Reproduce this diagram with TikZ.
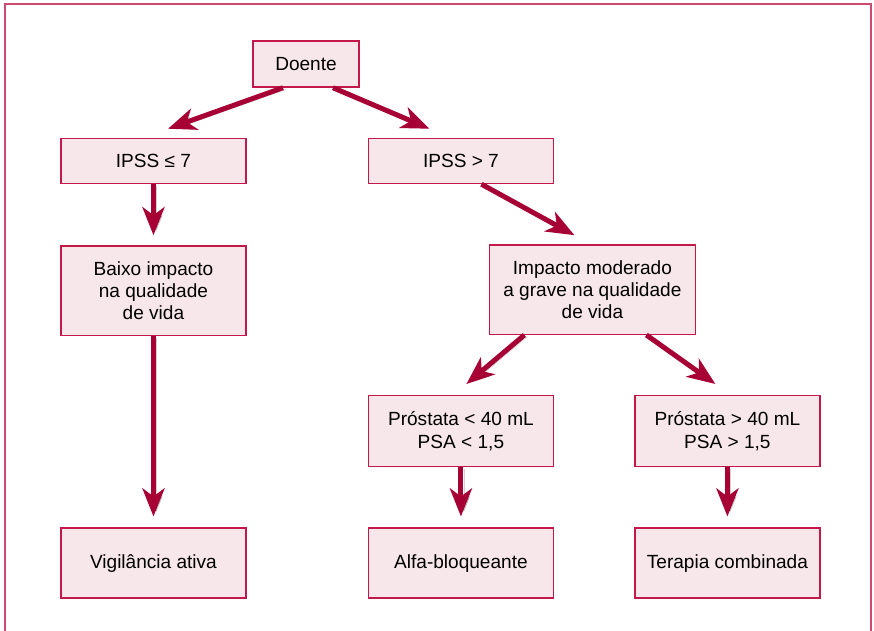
\documentclass[tikz,border=0pt]{standalone}
\usepackage{fontspec}
\setmainfont{Liberation Sans}
\usepackage{xcolor}
\definecolor{boxbg}{RGB}{247,231,235}
\definecolor{boxborder}{RGB}{196,24,74}
\definecolor{arrowred}{RGB}{166,0,52}
\definecolor{frameborder}{RGB}{204,74,112}
\usetikzlibrary{positioning}
\usetikzlibrary{arrows.meta}
\usepackage{tikz}

\begin{document}
\begin{tikzpicture}[font=\fontsize{14.3pt}{16.8pt}\selectfont,
      box style/.style={rectangle,draw=boxborder,fill=boxbg,line width=1.1pt,
        minimum width=138.75pt,minimum height=33.75pt,align=center,inner sep=2pt},
      tall style/.style={box style,minimum height=67pt},
      mid style/.style={box style,minimum height=53.25pt},
      low style/.style={box style,minimum height=52.5pt},
      flow/.style={draw=arrowred,line width=3.75pt,
        -{Stealth[length=21pt,width=16.5pt,inset=6pt]},
        preaction={draw=black,opacity=0.18,transform canvas={shift={(2.2pt,-1.2pt)}}}}
      ]
      \useasboundingbox (0,0) rectangle (655.5pt,-473.25pt);
      \draw[frameborder,line width=1pt] (3.75pt,-3pt) rectangle (653.25pt,-490pt);

      \node[box style, minimum width=79.5pt, minimum height=34.5pt] (doente) at (229.5pt,-48pt) {Doente};
      \node[box style, below=37.5pt of doente, xshift=-114.4pt] (ipssle) {IPSS ≤ 7};
      \node[box style, right=90.75pt of ipssle] (ipssgt) {IPSS > 7};

      \node[tall style, below=45.75pt of ipssle] (baixo) {Baixo impacto \\ na qualidade \\ de vida};
      \node[tall style, minimum width=154.5pt, below=45pt of ipssgt, xshift=98.6pt] (impacto) {Impacto moderado \\ a grave na qualidade \\ de vida};

      \node[mid style, below=45pt of impacto, xshift=-98.6pt] (prostlt) {Próstata < 40 mL \\ PSA < 1,5};
      \node[mid style, right=60pt of prostlt] (prostgt) {Próstata > 40 mL \\ PSA > 1,5};

      \node[low style, below=45pt of prostlt] (alfa) {Alfa-bloqueante};
      \node[low style, below=45pt of prostgt] (terapia) {Terapia combinada};
      \node[low style] (vigilancia) at (baixo |- alfa) {Vigilância ativa};

      \draw[flow] ([xshift=-17.25pt]doente.south) -- ([xshift=10.9pt,yshift=6.75pt]ipssle.north);
      \draw[flow] ([xshift=20.25pt]doente.south) -- ([xshift=-23.6pt,yshift=6.75pt]ipssgt.north);
      \draw[flow,shorten >=7.5pt] (ipssle) -- (baixo);
      \draw[flow] ([xshift=15.4pt]ipssgt.south) -- ([xshift=-13.5pt,yshift=6.75pt]impacto.north);
      \draw[flow] ([xshift=-51pt]impacto.south) -- ([xshift=4.1pt,yshift=8.25pt]prostlt.north);
      \draw[flow] ([xshift=40.5pt]impacto.south) -- ([xshift=-9pt,yshift=8.25pt]prostgt.north);
      \draw[flow,shorten >=8.25pt] (baixo) -- (vigilancia);
      \draw[flow,shorten >=8.25pt] (prostlt) -- (alfa);
      \draw[flow,shorten >=8.25pt] (prostgt) -- (terapia);
    \end{tikzpicture}
\end{document}
